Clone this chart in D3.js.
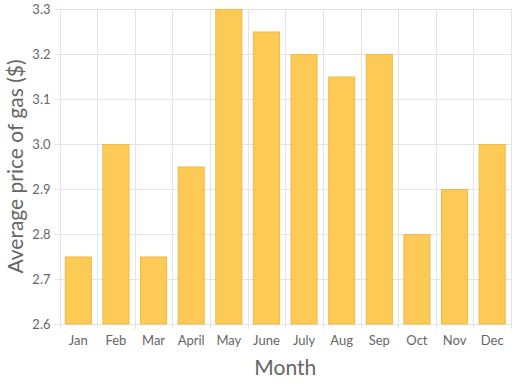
<!DOCTYPE html>
<html><head><meta charset="utf-8">
<script src="https://cdn.jsdelivr.net/npm/d3@7"></script>
<style>body{margin:0;background:#fff}text{font-family:Lato,sans-serif}</style>
</head><body><svg id="c" width="512" height="384"></svg>
<script>
const months = ["Jan","Feb","Mar","April","May","June","July","Aug","Sep","Oct","Nov","Dec"];
const prices = [2.75,3.0,2.75,2.95,3.3,3.25,3.2,3.15,3.2,2.8,2.9,3.0];
const yTicks = [2.6,2.7,2.8,2.9,3.0,3.1,3.2,3.3];
const xTitle = "Month";
const yTitle = "Average price of gas ($)";

const svg = d3.select("#c");
const L = 59.5, R = 511, T = 9, B = 324;
const x = d3.scaleBand().domain(months).range([L, R]).paddingInner(0.28).paddingOuter(0.14);
const xb = d3.scaleBand().domain(months).range([L, R]);
const y = d3.scaleLinear().domain([2.6, 3.3]).range([B, T]);
const grid = "#e4e4e4";

// horizontal grid
svg.append("g").selectAll("line").data(yTicks).join("line")
  .attr("x1", L - 5).attr("x2", R).attr("y1", d => Math.round(y(d)) + 0.5).attr("y2", d => Math.round(y(d)) + 0.5)
  .attr("stroke", grid).attr("stroke-width", 1);
// vertical grid
const vb = months.map(m => xb(m)).concat([R]);
svg.append("g").selectAll("line").data(vb).join("line")
  .attr("x1", d => Math.round(d) + 0.5).attr("x2", d => Math.round(d) + 0.5)
  .attr("y1", T).attr("y2", B + 5)
  .attr("stroke", grid).attr("stroke-width", 1);

// bars
svg.append("g").selectAll("rect").data(prices).join("rect")
  .attr("x", (d, i) => x(months[i]) + 0.5).attr("width", x.bandwidth() - 1)
  .attr("y", d => y(d) + 0.5).attr("height", d => B - y(d) - 0.5)
  .attr("fill", "#fdca55").attr("stroke", "#f0ba45").attr("stroke-width", 1);

// axes
const ya = d3.axisLeft(y).tickValues(yTicks).tickFormat(d3.format(".1f")).tickSize(0).tickPadding(8);
svg.append("g").attr("transform", `translate(${L - 1},0)`).call(ya)
  .call(g => g.select(".domain").remove())
  .selectAll("text").attr("fill", "#666").style("font-size", "13px").style("font-family", "Lato");
const xa = d3.axisBottom(x).tickSize(0).tickPadding(12);
svg.append("g").attr("transform", `translate(0,${B})`).call(xa)
  .call(g => g.select(".domain").remove())
  .selectAll("text").attr("fill", "#666").style("font-size", "13px").style("font-family", "Lato");

svg.append("text").attr("x", (L + R) / 2).attr("y", 375).attr("text-anchor", "middle")
  .attr("fill", "#666").style("font-size", "21px").text(xTitle);
svg.append("text").attr("transform", `translate(23,${(T + B) / 2}) rotate(-90)`).attr("text-anchor", "middle")
  .attr("fill", "#666").style("font-size", "21px").text(yTitle);
</script></body></html>
